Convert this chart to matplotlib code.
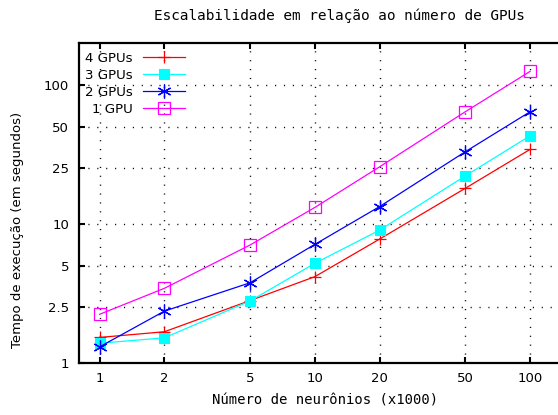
import matplotlib
matplotlib.use("Agg")
import matplotlib.pyplot as plt

neurons = [1, 2, 5, 10, 20, 50, 100]
gpu4 = [1.52, 1.67, 2.8, 4.16, 7.76, 18.0, 34.3]
gpu3 = [1.38, 1.51, 2.78, 5.19, 9.0, 22.1, 43.0]
gpu2 = [1.30, 2.35, 3.76, 7.1, 13.3, 33.0, 64.0]
gpu1 = [2.23, 3.43, 7.03, 13.1, 25.7, 64.0, 125.0]
labels = ["4 GPUs", "3 GPUs", "2 GPUs", "1 GPU"]
xticks = [1, 2, 5, 10, 20, 50, 100]
xticklabels = ["1", "2", "5", "10", "20", "50", "100"]
yticks = [1, 2.5, 5, 10, 25, 50, 100]
yticklabels = ["1", "2.5", "5", "10", "25", "50", "100"]

W, H = 558, 415
fig = plt.figure(figsize=(W / 100, H / 100), dpi=100)
left, right, top, bottom = 78.7, 568.0, 43.0, 362.7
ax = fig.add_axes([left / W, 1 - bottom / H, (right - left) / W, (bottom - top) / H])
ax.set_xscale("log")
ax.set_yscale("log")
ax.set_xlim(0.8, 150)
ax.set_ylim(1, 200)

lw = 0.9
ax.plot(neurons, gpu4, color="#ff0000", lw=lw, marker="+", ms=9, mew=0.9, label=labels[0])
ax.plot(neurons, gpu3, color="#00ffff", lw=lw, marker="s", ms=7, mew=0.8, mfc="#00ffff", mec="#00ffff", label=labels[1])
ax.plot(neurons, gpu2, color="#0000ff", lw=lw, marker=(6, 2, 0), ms=10, mew=0.9, label=labels[2])
ax.plot(neurons, gpu1, color="#ff00ff", lw=lw, marker="s", ms=8, mew=0.9, mfc="none", mec="#ff00ff", label=labels[3])

ax.set_xticks(xticks)
ax.set_xticklabels(xticklabels)
ax.set_yticks(yticks)
ax.set_yticklabels(yticklabels)
ax.minorticks_off()
ax.tick_params(which="major", direction="in", length=4, width=1.5, top=True, right=True,
               labelsize=9.5, pad=7, colors="black")
for s in ax.spines.values():
    s.set_linewidth(1.6)
ax.grid(True, which="major", color="black", linestyle=(0, (0.8, 5.6)), linewidth=1.0)

leg = ax.legend(loc="upper left", bbox_to_anchor=(85 / W, 1 - 52 / H), bbox_transform=fig.transFigure,
                frameon=False, markerfirst=False, fontsize=9.6, handlelength=3.2, handletextpad=0.75,
                labelspacing=0.3, borderpad=0, borderaxespad=0)

fig.text(339 / W, 1 - 16 / H, "Escalabilidade em relação ao número de GPUs", ha="center", va="center",
         family="DejaVu Sans Mono", fontsize=10.4)
fig.text(325 / W, 1 - 400 / H, "Número de neurônios (x1000)", ha="center", va="center",
         family="DejaVu Sans Mono", fontsize=10)
fig.text(18 / W, 1 - 230 / H, "Tempo de execução (em segundos)", ha="center", va="center",
         rotation=90, fontsize=9.5)

fig.savefig("out.png", dpi=100)
